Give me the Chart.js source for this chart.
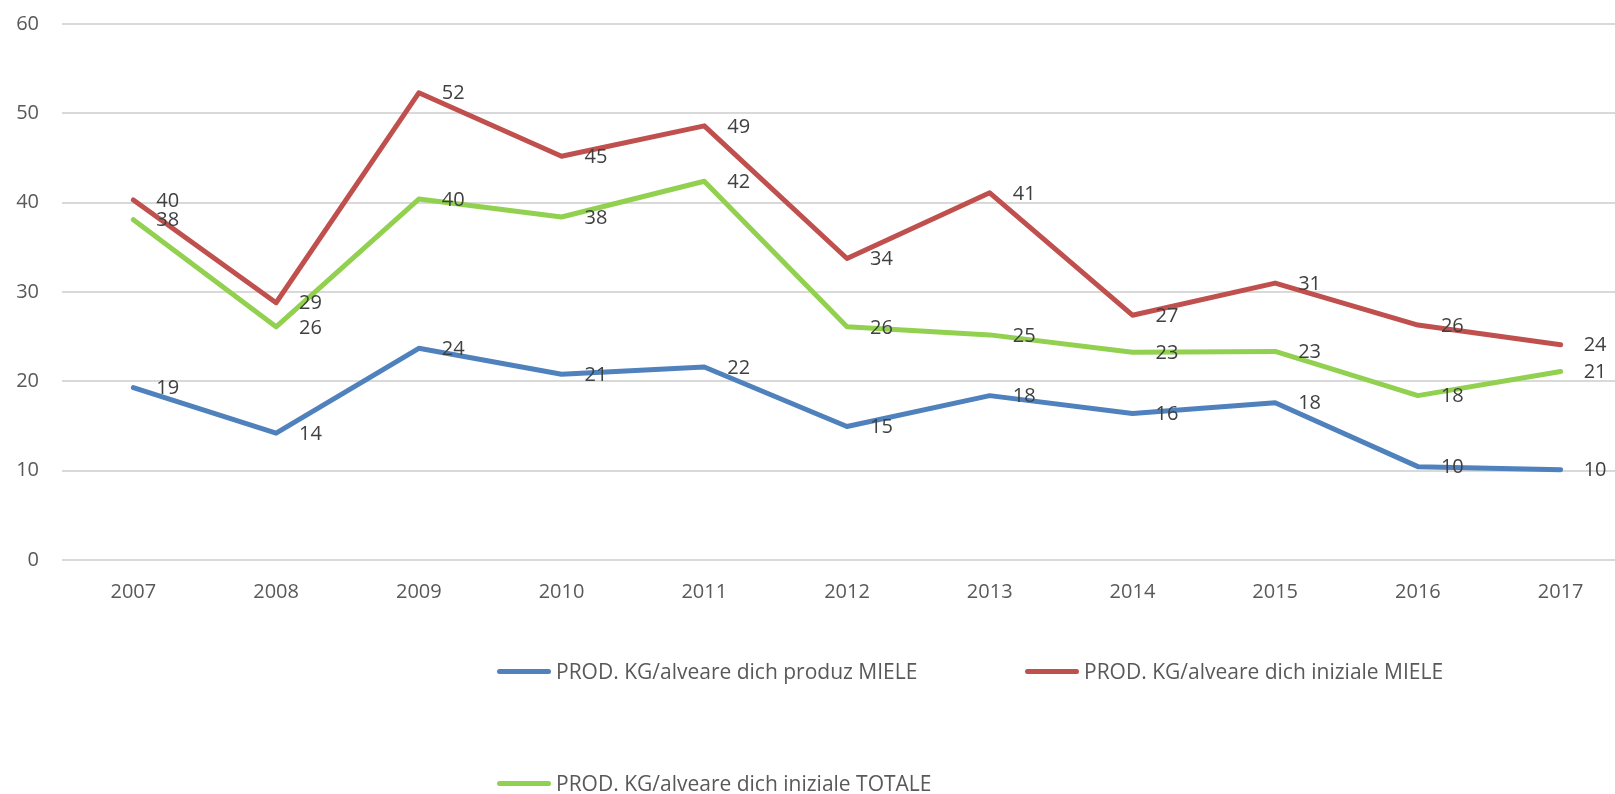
<!DOCTYPE html>
<html>
<head>
<meta charset="utf-8">
<script src="https://cdn.jsdelivr.net/npm/chart.js@4"></script>
<style>
  html, body { margin: 0; padding: 0; background: #fff; overflow: hidden; }
  #wrap { position: relative; width: 1632px; height: 794px; }
  #legend { position: absolute; left: 0; top: 0; width: 1615px; height: 794px; pointer-events: none;
            font-family: "Open Sans", sans-serif; font-size: 21px; color: #595959; }
  .leg { position: absolute; display: flex; align-items: center; white-space: nowrap; transform: translateY(-50%); }
  .leg span.line { display: inline-block; width: 54px; height: 5px; border-radius: 3px; margin-right: 5px; }
</style>
</head>
<body>
<div id="wrap">
  <canvas id="grafico" width="1632" height="794"></canvas>
  <div id="legend"></div>
</div>
<script>
// Dati
const anni = ['2007', '2008', '2009', '2010', '2011', '2012', '2013', '2014', '2015', '2016', '2017'];
const produzMiele = [19.3, 14.2, 23.7, 20.8, 21.6, 14.95, 18.4, 16.4, 17.6, 10.45, 10.1];
const inizialeMiele = [40.3, 28.8, 52.3, 45.2, 48.6, 33.75, 41.1, 27.4, 31.0, 26.3, 24.1];
const inizialeTotale = [38.1, 26.1, 40.4, 38.4, 42.4, 26.1, 25.2, 23.25, 23.35, 18.4, 21.1];

const nomiSerie = [
    'PROD. KG/alveare dich produz MIELE',
    'PROD. KG/alveare dich iniziale MIELE',
    'PROD. KG/alveare dich iniziale TOTALE'
];
const colori = ['#4F81BD', '#C0504D', '#92D050'];

const FONT = '"Open Sans", sans-serif';

// etichette dei valori a destra di ogni punto
const etichetteValori = {
    id: 'etichetteValori',
    afterDatasetsDraw(chart) {
        const ctx = chart.ctx;
        ctx.save();
        ctx.font = '20px ' + FONT;
        ctx.fillStyle = '#404040';
        ctx.textAlign = 'left';
        ctx.textBaseline = 'middle';
        chart.data.datasets.forEach((ds, i) => {
            const meta = chart.getDatasetMeta(i);
            meta.data.forEach((pt, j) => {
                ctx.fillText(String(Math.round(ds.data[j])), pt.x + 23, pt.y + 1);
            });
        });
        ctx.restore();
    }
};

const serie = [produzMiele, inizialeMiele, inizialeTotale];

new Chart(document.getElementById('grafico').getContext('2d'), {
    type: 'line',
    data: {
        labels: anni,
        datasets: serie.map((valori, i) => ({
            label: nomiSerie[i],
            data: valori,
            borderColor: colori[i],
            backgroundColor: colori[i],
            borderWidth: 5,
            pointRadius: 0,
            tension: 0,
            borderCapStyle: 'round',
            borderJoinStyle: 'round',
            order: 3 - i
        }))
    },
    options: {
        responsive: false,
        animation: false,
        layout: { padding: { top: 24, right: 0, bottom: 0, left: 0 } },
        plugins: {
            legend: { display: false },
            tooltip: { enabled: false }
        },
        scales: {
            x: {
                offset: true,
                grid: { display: false, drawTicks: false },
                border: { display: false },
                ticks: { color: '#595959', font: { family: FONT, size: 20 }, padding: 20, maxRotation: 0 },
                afterFit(scale) { scale.height = 234; }
            },
            y: {
                min: 0,
                max: 60,
                ticks: { stepSize: 10, color: '#595959', font: { family: FONT, size: 20 }, padding: 3 },
                grid: { color: '#D9D9D9', lineWidth: 2, drawTicks: true, tickLength: 20, tickColor: 'rgba(0,0,0,0)' },
                border: { display: false },
                afterFit(scale) { scale.width = 62; }
            }
        }
    },
    plugins: [etichetteValori]
});

// legenda in HTML (due colonne, come nell'originale)
const posLegenda = [
    { left: 497, top: 671 },
    { left: 1025, top: 671 },
    { left: 497, top: 783 }
];
const legendDiv = document.getElementById('legend');
nomiSerie.forEach((nome, i) => {
    const el = document.createElement('div');
    el.className = 'leg';
    el.style.left = posLegenda[i].left + 'px';
    el.style.top = posLegenda[i].top + 'px';
    el.innerHTML = '<span class="line" style="background:' + colori[i] + '"></span>' + nome;
    legendDiv.appendChild(el);
});
</script>
</body>
</html>
